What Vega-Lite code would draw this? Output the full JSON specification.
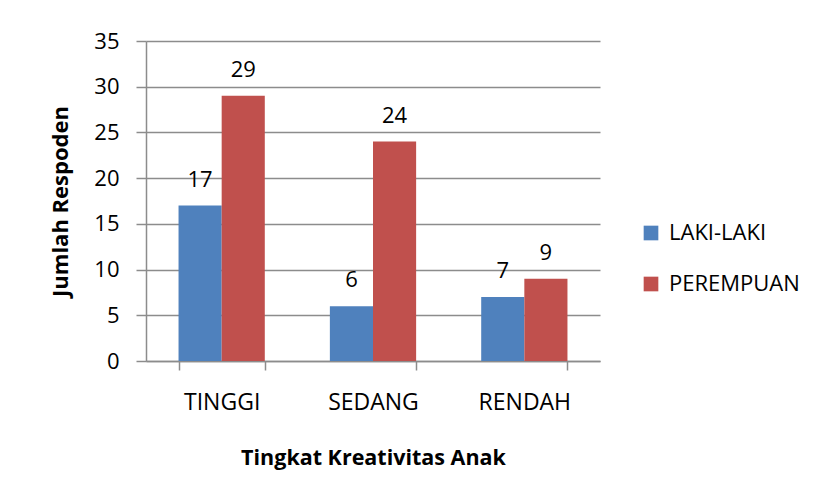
{
  "$schema": "https://vega.github.io/schema/vega-lite/v6.json",
  "autosize": "none",
  "width": 454,
  "height": 320,
  "padding": {"left": 146, "top": 41, "right": 219, "bottom": 137},
  "background": "white",
  "config": {
    "font": "Open Sans",
    "view": {"stroke": null},
    "axis": {
      "labelFont": "Open Sans",
      "titleFont": "Open Sans",
      "labelColor": "#000000",
      "titleColor": "#000000",
      "domainColor": "#8c8c8c",
      "tickColor": "#8c8c8c",
      "gridColor": "#8c8c8c",
      "domainWidth": 1.5,
      "tickWidth": 1.5,
      "gridWidth": 1.5
    }
  },
  "data": {
    "values": [
      {"kategori": "TINGGI", "jenis": "LAKI-LAKI", "jumlah": 17},
      {"kategori": "TINGGI", "jenis": "PEREMPUAN", "jumlah": 29},
      {"kategori": "SEDANG", "jenis": "LAKI-LAKI", "jumlah": 6},
      {"kategori": "SEDANG", "jenis": "PEREMPUAN", "jumlah": 24},
      {"kategori": "RENDAH", "jenis": "LAKI-LAKI", "jumlah": 7},
      {"kategori": "RENDAH", "jenis": "PEREMPUAN", "jumlah": 9}
    ]
  },
  "encoding": {
    "x": {
      "field": "kategori",
      "type": "nominal",
      "sort": ["TINGGI", "SEDANG", "RENDAH"],
      "scale": {"paddingInner": 0.43, "paddingOuter": 0.215},
      "axis": {
        "title": "Tingkat Kreativitas Anak",
        "titleFontSize": 21.5,
        "titleFontWeight": "bold",
        "titlePadding": 33,
        "labelFontSize": 23,
        "labelAngle": 0,
        "labelPadding": 21,
        "tickBand": "extent",
        "tickSize": 9,
        "grid": false
      }
    },
    "xOffset": {"field": "jenis", "type": "nominal", "sort": ["LAKI-LAKI", "PEREMPUAN"]},
    "y": {
      "field": "jumlah",
      "type": "quantitative",
      "scale": {"domain": [0, 35], "nice": false},
      "axis": {
        "title": "Jumlah Respoden",
        "titleFontSize": 22,
        "titleFontWeight": "bold",
        "titlePadding": 21,
        "labelFontSize": 22,
        "labelPadding": 17,
        "tickSize": 10,
        "values": [0, 5, 10, 15, 20, 25, 30, 35],
        "grid": true
      }
    }
  },
  "layer": [
    {
      "mark": {"type": "bar"},
      "encoding": {
        "color": {
          "field": "jenis",
          "type": "nominal",
          "scale": {"domain": ["LAKI-LAKI", "PEREMPUAN"], "range": ["#4F81BD", "#C0504D"]},
          "legend": {
            "title": null,
            "orient": "none",
            "legendX": 494,
            "legendY": 181,
            "symbolType": "square",
            "symbolSize": 215,
            "symbolStrokeWidth": 0,
            "labelFont": "Open Sans",
            "labelFontSize": 22,
            "labelColor": "#000000",
            "rowPadding": 29,
            "labelOffset": 7
          }
        }
      }
    },
    {
      "mark": {"type": "text", "baseline": "bottom", "dy": -14, "fontSize": 22, "font": "Open Sans", "color": "#000000"},
      "encoding": {
        "text": {"field": "jumlah", "type": "quantitative"}
      }
    }
  ]
}
